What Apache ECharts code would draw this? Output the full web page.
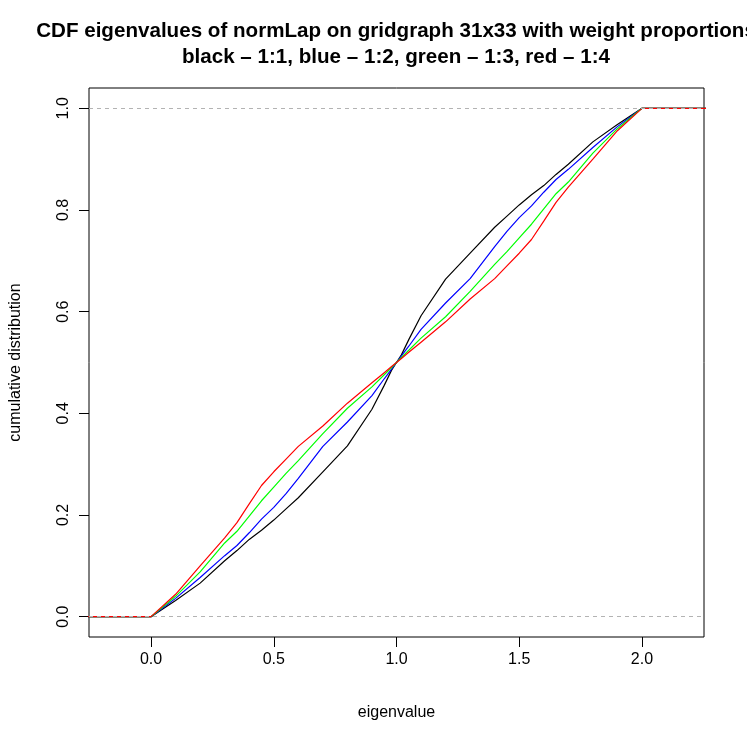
<!DOCTYPE html>
<html lang="en">
<head>
    <meta charset="UTF-8">
    <title>CDF eigenvalues of normLap</title>
    <script src="https://cdn.jsdelivr.net/npm/echarts@6/dist/echarts.min.js"></script>
    <style>
        html, body { margin: 0; padding: 0; background: #fff; }
        #charts { width: 747px; height: 747px; }
    </style>
</head>
<body>
<div id="charts"></div>

<script>
    // eigenvalue grid (x) the curves were read at
    var evX = [-0.32, 0, 0.1, 0.2, 0.3, 0.35, 0.4, 0.45, 0.5, 0.55, 0.6, 0.7, 0.8, 0.9, 0.95, 0.98, 1.0,
        1.02, 1.05, 1.1, 1.2, 1.3, 1.4, 1.45, 1.5, 1.55, 1.6, 1.65, 1.7, 1.8, 1.9, 2.0, 2.32];
    // cumulative distribution, one array per weight proportion
    var cdfBlack = [0, 0, .032, .066, .110, .130, .152, .170, .190, .212, .234, .285, .336, .408, .455, .485, .5,
        .515, .545, .592, .664, .715, .766, .788, .810, .830, .848, .870, .890, .934, .968, 1, 1];
    var cdfBlue = [0, 0, .036, .077, .120, .140, .165, .192, .215, .242, .272, .335, .383, .435, .468, .487, .5,
        .513, .532, .565, .617, .665, .728, .758, .785, .808, .835, .860, .880, .923, .964, 1, 1];
    var cdfGreen = [0, 0, .040, .088, .145, .168, .198, .228, .255, .282, .307, .360, .410, .452, .476, .490, .5,
        .510, .524, .548, .590, .640, .693, .718, .745, .772, .802, .832, .855, .912, .960, 1, 1];
    var cdfRed = [0, 0, .044, .100, .155, .185, .222, .258, .285, .310, .335, .375, .420, .460, .480, .492, .5,
        .508, .520, .540, .580, .625, .665, .690, .715, .742, .778, .815, .845, .900, .956, 1, 1];
    var xTicks = [0, 0.5, 1, 1.5, 2];
    var yTicks = [0, 0.2, 0.4, 0.6, 0.8, 1];
    var refLines = [0, 1];

    var FONT = '"Liberation Sans", Arial, sans-serif';

    function pairs(ys) {
        var out = [];
        for (var i = 0; i < evX.length; i++) out.push([evX[i], ys[i]]);
        return out;
    }

    function curve(name, color, ys) {
        return {
            name: name,
            type: 'line',
            data: pairs(ys),
            showSymbol: false,
            clip: true,
            lineStyle: {color: color, width: 1.2},
            silent: true
        };
    }

    var series = [
        curve('1:1', '#000000', cdfBlack),
        curve('1:2', '#0000ff', cdfBlue),
        curve('1:3', '#00ff00', cdfGreen),
        curve('1:4', '#ff0000', cdfRed)
    ];
    // grey dashed reference lines, drawn last (like abline)
    series.push({
        type: 'line',
        data: [],
        z: 10,
        markLine: {
            silent: true,
            symbol: ['none', 'none'],
            label: {show: false},
            lineStyle: {color: '#b3b3b3', type: [4, 4], width: 1},
            data: refLines.map(function (v) { return {yAxis: v}; })
        }
    });

    var myChart = echarts.init(document.getElementById('charts'));
    myChart.setOption({
        animation: false,
        backgroundColor: '#ffffff',
        grid: {
            left: 88, right: 43, top: 88, bottom: 110,
            show: true, borderColor: '#000', borderWidth: 1
        },
        graphic: [
            {
                type: 'text', x: 396, y: 31,
                style: {
                    text: 'CDF eigenvalues of normLap on gridgraph 31x33 with weight proportions',
                    font: 'bold 20.6px ' + FONT, fill: '#000', textAlign: 'center', textVerticalAlign: 'middle'
                }
            },
            {
                type: 'text', x: 396, y: 57,
                style: {
                    text: 'black \u2013 1:1, blue \u2013 1:2, green \u2013 1:3, red \u2013 1:4',
                    font: 'bold 20.6px ' + FONT, fill: '#000', textAlign: 'center', textVerticalAlign: 'middle'
                }
            }
        ],
        xAxis: {
            type: 'value',
            min: -0.2528, max: 2.2528,
            name: 'eigenvalue',
            nameLocation: 'middle',
            nameGap: 68,
            nameTextStyle: {fontFamily: FONT, fontSize: 16, color: '#000'},
            axisLine: {show: false, onZero: false},
            axisTick: {show: true, length: 10, inside: false, customValues: xTicks, lineStyle: {color: '#000'}},
            axisLabel: {
                customValues: xTicks, margin: 15, fontFamily: FONT, fontSize: 16, color: '#000',
                formatter: function (v) { return v.toFixed(1); }
            },
            splitLine: {show: false}
        },
        yAxis: {
            type: 'value',
            min: -0.04, max: 1.04,
            name: 'cumulative distribution',
            nameLocation: 'middle',
            nameGap: 65,
            nameTextStyle: {fontFamily: FONT, fontSize: 16, color: '#000'},
            axisLine: {show: false, onZero: false},
            axisTick: {show: true, length: 10, inside: false, customValues: yTicks, lineStyle: {color: '#000'}},
            axisLabel: {
                customValues: yTicks, margin: 17, rotate: 90, fontFamily: FONT, fontSize: 16, color: '#000',
                formatter: function (v) { return v.toFixed(1); }
            },
            splitLine: {show: false}
        },
        series: series
    });
</script>
</body>
</html>
